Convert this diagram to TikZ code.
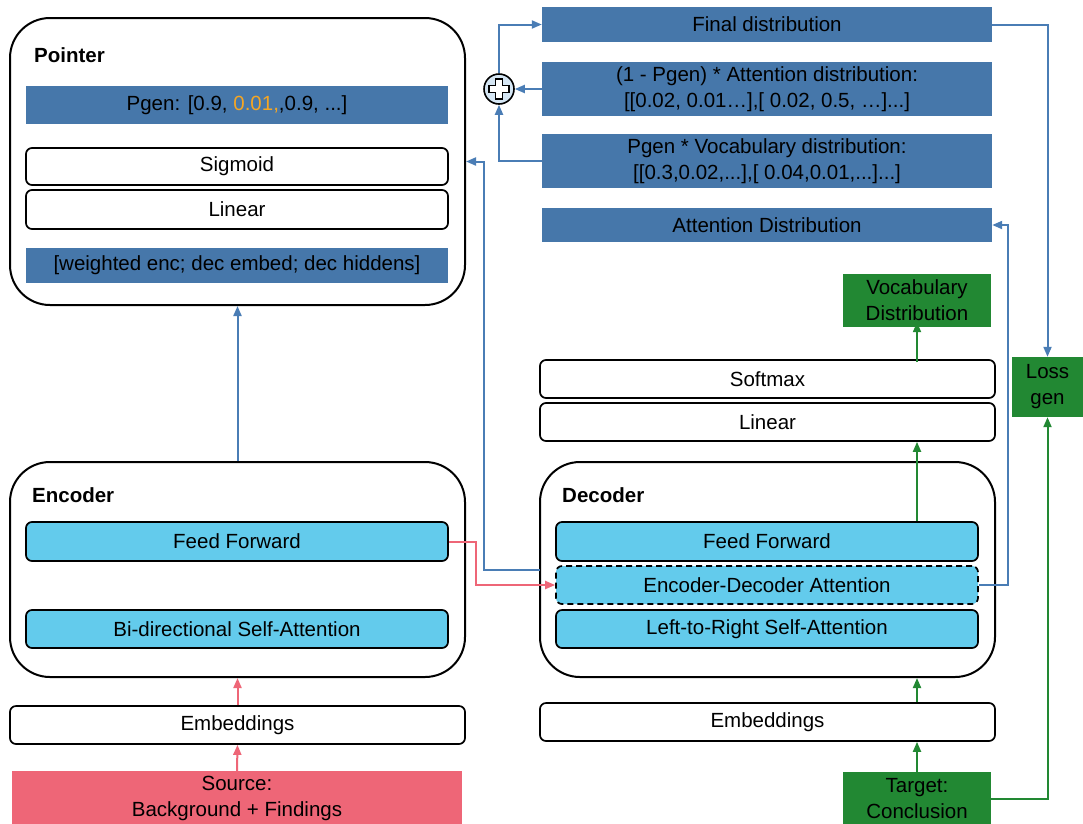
\documentclass[tikz,border=0pt]{standalone}
\usepackage{fontspec}
\setmainfont{Liberation Sans}
\usetikzlibrary{arrows.meta}

\definecolor{steel}{HTML}{4677AA}
\definecolor{sky}{HTML}{63CBEC}
\definecolor{rose}{HTML}{EE6677}
\definecolor{leaf}{HTML}{228833}
\definecolor{flow}{HTML}{4A7DB5}
\definecolor{amber}{HTML}{F5A623}
\definecolor{bubble}{HTML}{D5E6F4}

\tikzset{
  txt/.style={font=\fontsize{20.5}{26}\selectfont, align=center, text=black},
  wh/.style 2 args={minimum width=#1pt, minimum height=#2pt},
  stage/.style={draw=black, line width=2pt, rounded corners=40pt, inner sep=0pt, fill=white},
  title/.style={font=\fontsize{20.5}{24}\selectfont\bfseries, anchor=west, inner sep=0pt},
  block/.style={txt, draw=black, line width=1.7pt, rounded corners=6pt, inner sep=0pt, fill=white},
  layer/.style={block, fill=sky},
  band/.style={txt, fill=steel, inner sep=0pt},
  greenbox/.style={txt, fill=leaf, inner sep=0pt},
  tip/.style={-{Triangle[length=10pt,width=8pt]}, line width=2pt},
}

\begin{document}
\begin{tikzpicture}[x=1pt, y=-1pt]
\useasboundingbox (0,0) rectangle (1083,823);

% ---- pointer (copy/generate switch) ----
\node[stage, wh={455}{287}] (ptr) at (237.5,161.5) {};
\node[title] (ptrt) at (34,55) {Pointer};
\node[band, wh={422}{38}] (pgen) at (237,105) {Pgen: [0.9, \textcolor{amber}{0.01,},0.9, ...]};
\node[block, wh={422}{37}] (sig) at (237,166.5) {Sigmoid};
\node[block, wh={422}{39}] (plin) at (237,209.5) {Linear};
\node[band, wh={422}{35}] (wenc) at (237,265.5) {[weighted enc; dec embed; dec hiddens]};

% ---- encoder ----
\node[stage, wh={455}{215}] (enc) at (237.5,569.5) {};
\node[title] (enct) at (32,495) {Encoder};
\node[layer, wh={422}{39}] (effn) at (237,541.5) {Feed Forward};
\node[layer, wh={422}{38}] (ebi) at (237,629) {Bi-directional Self-Attention};
\node[block, wh={455}{38}] (eemb) at (237.5,725) {Embeddings};
\node[txt, fill=rose, inner sep=0pt, wh={450}{55}] (src) at (237,798.5) {Source:\\Background + Findings};

% ---- decoder ----
\node[stage, wh={455}{215}] (dec) at (767.5,569.5) {};
\node[title] (dect) at (562,495) {Decoder};
\node[layer, wh={422}{39}] (dffn) at (767,541.5) {Feed Forward};
\node[layer, dash pattern=on 6pt off 4pt, wh={422}{38}] (dattn) at (767,585) {Encoder-Decoder Attention};
\node[layer, wh={422}{38}] (dself) at (767,629) {Left-to-Right Self-Attention};
\node[block, wh={455}{38}] (demb) at (767.5,722) {Embeddings};
\node[greenbox, wh={148}{53}] (tgt) at (917,798.5) {Target:\\Conclusion};

% ---- generator head ----
\node[block, wh={455}{38}] (lin) at (767.5,422) {Linear};
\node[block, wh={455}{38}] (soft) at (767.5,379) {Softmax};
\node[greenbox, wh={148}{53}] (vocab) at (917,300.5) {Vocabulary\\Distribution};
\node[greenbox, wh={71}{60}] (loss) at (1047.5,387) {Loss\\gen};

% ---- distributions ----
\node[band, wh={450}{35}] (final) at (767,24.5) {Final distribution};
\node[band, wh={450}{54}] (attd) at (767,89) {(1 - Pgen) * Attention distribution:\\{}[[0.02, 0.01…],[ 0.02, 0.5, …]...]};
\node[band, wh={450}{54}] (vocd) at (767,161) {Pgen * Vocabulary distribution:\\{}[[0.3,0.02,...],[ 0.04,0.01,...]...]};
\node[band, wh={450}{34}] (adist) at (767,225) {Attention Distribution};

% sum node: circle with an outlined cross
\node[circle, draw=black, line width=1.6pt, fill=bubble, minimum size=30pt, inner sep=0pt] (plus) at (499,89) {};
\draw[black, line width=1.6pt, fill=white, shift={(plus.center)}]
  (-3.5,-10) -- (3.5,-10) -- (3.5,-3.5) -- (10,-3.5) -- (10,3.5) -- (3.5,3.5)
  -- (3.5,10) -- (-3.5,10) -- (-3.5,3.5) -- (-10,3.5) -- (-10,-3.5) -- (-3.5,-3.5) -- cycle;

% ---- connectors ----
\coordinate (tap) at (540,570);

% encoder path (source side)
\draw[rose, tip] (src.north) -- (eemb.south);
\draw[rose, tip] (eemb.north) -- (enc.south);
\draw[rose, tip] (effn.east) -- ++(27,0) |- (dattn.west);

% encoder to pointer, decoder state to pointer
\draw[flow, tip] (enc.north) -- (ptr.south);
\draw[flow, tip] (tap) -- ++(-56,0) |- (ptr.east);

% decoder path (target side)
\draw[leaf, tip] (tgt.north) -- (tgt.north |- demb.south);
\draw[leaf, tip] (tgt.north |- demb.north) -- (tgt.north |- dec.south);
\draw[leaf, tip] (tgt.north |- dffn.north) -- (tgt.north |- lin.south);
\draw[leaf, tip] ([yshift=-3pt]tgt.north |- soft.north) -- ([yshift=5pt]vocab.south);

% attention weights and mixing
\draw[flow, tip] (dattn.east) -- ++(29,0) |- (adist.east);
\draw[flow, tip] (attd.west) -- (plus.east);
\draw[flow, tip] (vocd.west) -| (plus.south);
\draw[flow, tip] (plus.north) |- (final.west);

% loss
\draw[flow, tip] (final.east) -| (loss.north);
\draw[leaf, tip] (tgt.east) -| (loss.south);
\end{tikzpicture}
\end{document}
